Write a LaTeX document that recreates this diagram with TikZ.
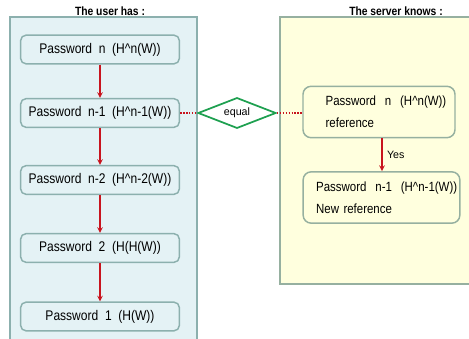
\documentclass[tikz,border=0pt]{standalone}
\usepackage{fontspec}
\setmainfont{Liberation Sans}
\newfontfamily\boxfont[FakeStretch=0.86]{Liberation Sans}
\usetikzlibrary{shapes.geometric}
\definecolor{userbg}{RGB}{228,242,245}
\definecolor{userline}{RGB}{140,176,174}
\definecolor{serverbg}{RGB}{255,255,222}
\definecolor{serverline}{RGB}{150,176,160}
\definecolor{chainred}{RGB}{200,20,30}
\definecolor{eqgreen}{RGB}{30,160,80}

\begin{document}
\begin{tikzpicture}[x=0.75pt,y=-0.75pt,
    title/.style={font=\boxfont\fontsize{9}{10}\selectfont\bfseries},
    pwbox/.style={draw=userline,fill=userbg,line width=1.1pt,rounded corners=4pt,
      minimum width=119pt,minimum height=21.5pt,inner sep=0pt,
      font=\boxfont\fontsize{10.5}{12}\selectfont},
    refbox/.style={draw=serverline,fill=serverbg,line width=1.1pt,rounded corners=6pt,
      minimum height=38.5pt,inner ysep=0pt,align=left,
      font=\boxfont\fontsize{10}{16.5}\selectfont}]
    \tikzset{chain/.style={->,>=stealth,chainred,line width=0.9pt}}
    \path[use as bounding box] (0,0) rectangle (469,339);
    \clip (0,0) rectangle (469,339);
    \draw[userline,fill=userbg,line width=1.2pt] (10,17) rectangle (197,350);
    \draw[serverline,fill=serverbg,line width=1.2pt] (280,17) rectangle (480,284);
    \node[title] (usertitle) at (110,11) {The user has :};
    \node[title] (servertitle) at (396,11) {The server knows :};

    \node[pwbox] (pn) at (100,49.5) {Password\ \ n\ \ (H\textasciicircum n(W))};
    \node[pwbox] (pn1) at (100,113) {Password\ \ n-1\ \ (H\textasciicircum n-1(W))};
    \node[pwbox] (pn2) at (100,180) {Password\ \ n-2\ \ (H\textasciicircum n-2(W))};
    \node[pwbox] (p2) at (100,248) {Password\ \ 2\ \ (H(H(W))};
    \node[pwbox] (p1) at (100,316.5) {Password\ \ 1\ \ (H(W))};
    \draw[chain] (pn) -- (pn1);
    \draw[chain] (pn1) -- (pn2);
    \draw[chain] (pn2) -- (p2);
    \draw[chain] (p2) -- (p1);

    \node[diamond,draw=eqgreen,fill=white,line width=1.3pt,aspect=2.5,
      minimum width=58.5pt,minimum height=23pt,inner sep=0pt,
      font=\fontsize{8}{9}\selectfont] (eq) at (237,113) {equal};

    \node[refbox,inner xsep=17pt,text width=80pt] (ref) at (379,112)
      {\mbox{Password\ \ n\ \ (H\textasciicircum n(W))}\\reference};
    \node[refbox,inner xsep=9.75pt,text width=98pt] (newref) at (381.5,197.5)
      {\mbox{Password\ \ n-1\ \ (H\textasciicircum n-1(W))}\\New reference};
    \draw[chain] (ref.south -| 382,0) -- (newref.north -| 382,0)
      node[midway,right,black,font=\fontsize{8}{9}\selectfont] {Yes};

    \draw[chainred,densely dotted,line width=1.2pt] (pn1) -- (eq);
    \draw[chainred,densely dotted,line width=1.2pt] (eq.east) -- (eq.east -| ref.west);
\end{tikzpicture}
\end{document}
